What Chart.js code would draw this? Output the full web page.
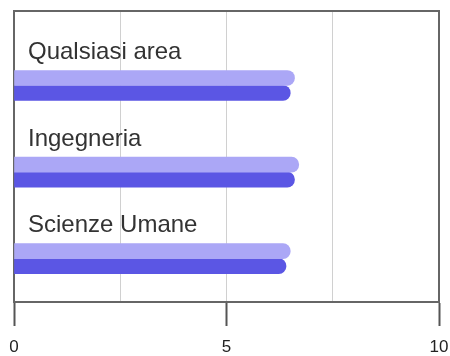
<!DOCTYPE html>
<html>
<head>
<meta charset="utf-8">
<script src="https://cdn.jsdelivr.net/npm/chart.js@4/dist/chart.umd.min.js"></script>
<style>
  html, body { margin: 0; padding: 0; background: #fff; }
  #wrap { width: 450px; height: 356px; position: relative; }
</style>
</head>
<body>
<div id="wrap"><canvas id="chart"></canvas></div>
<script>
const categories = ['Qualsiasi area', 'Ingegneria', 'Scienze Umane'];
const seriesLight = [6.6, 6.7, 6.5];
const seriesDark = [6.5, 6.6, 6.4];
const xTicksShown = [0, 5, 10];

// Category names are drawn above each pair of bars, inside the plot.
const categoryLabels = {
  id: 'categoryLabels',
  beforeDatasetsDraw(chart) {
    const { ctx, chartArea } = chart;
    ctx.save();
    ctx.strokeStyle = '#666';
    ctx.lineWidth = 2;
    ctx.strokeRect(chartArea.left, chartArea.top, chartArea.right - chartArea.left, chartArea.bottom - chartArea.top);
    ctx.restore();
  },
  afterDatasetsDraw(chart) {
    const { ctx, chartArea, scales } = chart;
    ctx.save();
    ctx.font = '24px "Liberation Sans", Arial, sans-serif';
    ctx.fillStyle = '#333';
    ctx.textBaseline = 'middle';
    categories.forEach((name, i) => {
      const y = scales.y.getPixelForValue(i) - 33;
      ctx.fillText(name, chartArea.left + 14, y);
    });
    ctx.restore();
  }
};

const toPoints = vals => vals.map((v, i) => ({ x: v, y: i }));

new Chart(document.getElementById('chart'), {
  type: 'bar',
  data: {
    datasets: [{
      label: 'A',
      data: toPoints(seriesLight),
      backgroundColor: '#aba7f6',
      barThickness: 15,
      borderRadius: 8,
      borderSkipped: 'start'
    }, {
      label: 'B',
      data: toPoints(seriesDark),
      backgroundColor: '#5b56e4',
      barThickness: 15,
      borderRadius: 8,
      borderSkipped: 'start'
    }]
  },
  options: {
    indexAxis: 'y',
    responsive: true,
    maintainAspectRatio: false,
    animation: false,
    layout: { padding: { left: 14, right: 11, top: 11, bottom: 0 } },
    scales: {
      x: {
        type: 'linear',
        min: 0,
        max: 10,
        afterFit: scale => {
          scale.height = 54;
          scale.paddingLeft = 0;
          scale.paddingRight = 0;
        },
        ticks: {
          stepSize: 2.5,
          padding: 11,
          color: '#222',
          font: { size: 17, family: '"Liberation Sans", Arial, sans-serif' },
          callback: v => xTicksShown.includes(v) ? String(v) : ''
        },
        grid: {
          color: '#d0d0d0',
          lineWidth: 1,
          tickLength: 24,
          tickColor: c => xTicksShown.includes(c.tick.value) ? '#555' : 'rgba(0,0,0,0)',
          tickWidth: 2
        },
        border: { color: '#555', width: 2 }
      },
      y: {
        type: 'linear',
        reverse: true,
        offset: false,
        min: -0.86,
        max: 2.5,
        display: false
      }
    },
    plugins: {
      legend: { display: false },
      tooltip: { enabled: false }
    }
  },
  plugins: [categoryLabels]
});
</script>
</body>
</html>
